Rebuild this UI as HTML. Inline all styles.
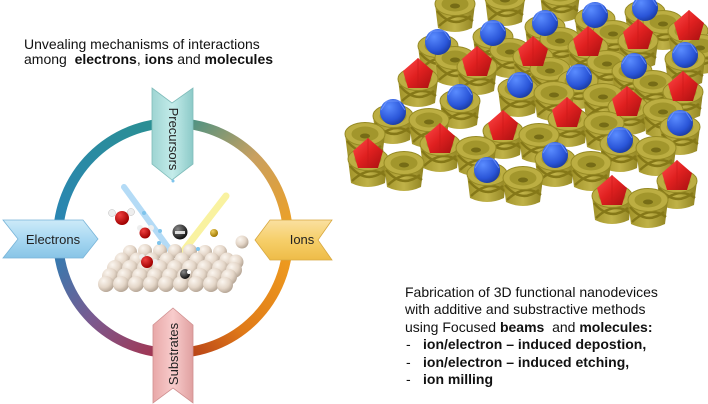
<!DOCTYPE html>
<html><head><meta charset="utf-8"><style>
html,body{margin:0;padding:0;background:#fff;}
body{width:708px;height:404px;overflow:hidden;position:relative;font-family:"Liberation Sans",Arial,sans-serif;}
svg{position:absolute;left:0;top:0;}
</style></head><body>
<svg width="708" height="404" viewBox="0 0 708 404" xmlns="http://www.w3.org/2000/svg" font-family="Liberation Sans, Arial, sans-serif">
<defs>
<linearGradient id="gTL" x1="0" y1="1" x2="1" y2="0"><stop offset="0" stop-color="#2a85b5"/><stop offset="1" stop-color="#2a9090"/></linearGradient>
<linearGradient id="gTR" x1="0" y1="0" x2="1" y2="1"><stop offset="0" stop-color="#3a9088"/><stop offset="0.5" stop-color="#c9a060"/><stop offset="1" stop-color="#f0a020"/></linearGradient>
<linearGradient id="gBR" x1="1" y1="0" x2="0" y2="1"><stop offset="0" stop-color="#f0a020"/><stop offset="0.6" stop-color="#e07a18"/><stop offset="1" stop-color="#b03818"/></linearGradient>
<linearGradient id="gBL" x1="0" y1="0" x2="1" y2="1"><stop offset="0" stop-color="#2a80b5"/><stop offset="0.5" stop-color="#7a5a90"/><stop offset="1" stop-color="#a83048"/></linearGradient>
<linearGradient id="gPre" x1="0" y1="0" x2="1" y2="0"><stop offset="0" stop-color="#9ed4d2"/><stop offset="0.5" stop-color="#c4ecea"/><stop offset="1" stop-color="#8ccac8"/></linearGradient>
<linearGradient id="gSub" x1="0" y1="0" x2="1" y2="0"><stop offset="0" stop-color="#e8a8a8"/><stop offset="0.5" stop-color="#f8cccc"/><stop offset="1" stop-color="#e0a0a0"/></linearGradient>
<linearGradient id="gEl" x1="0" y1="0" x2="0" y2="1"><stop offset="0" stop-color="#cdeaf8"/><stop offset="0.5" stop-color="#a8d8f2"/><stop offset="1" stop-color="#88c4e6"/></linearGradient>
<linearGradient id="gIon" x1="0" y1="0" x2="0" y2="1"><stop offset="0" stop-color="#fae0a0"/><stop offset="0.5" stop-color="#f6cf6a"/><stop offset="1" stop-color="#eebc48"/></linearGradient>
<radialGradient id="sB" cx="0.35" cy="0.3" r="0.7"><stop offset="0" stop-color="#fbf6f0"/><stop offset="0.6" stop-color="#e4d6c8"/><stop offset="1" stop-color="#b8a898"/></radialGradient>
<radialGradient id="sR" cx="0.35" cy="0.3" r="0.7"><stop offset="0" stop-color="#f04040"/><stop offset="1" stop-color="#a00000"/></radialGradient>
<radialGradient id="sK" cx="0.35" cy="0.3" r="0.7"><stop offset="0" stop-color="#888"/><stop offset="1" stop-color="#111"/></radialGradient>
<radialGradient id="sG" cx="0.35" cy="0.3" r="0.7"><stop offset="0" stop-color="#f0d060"/><stop offset="1" stop-color="#a07800"/></radialGradient>
<radialGradient id="sBl" cx="0.35" cy="0.3" r="0.75"><stop offset="0" stop-color="#5a8cff"/><stop offset="0.7" stop-color="#2a55d8"/><stop offset="1" stop-color="#1a3aa0"/></radialGradient>
<linearGradient id="sRd" x1="0" y1="0" x2="1" y2="1"><stop offset="0" stop-color="#ff4a4a"/><stop offset="0.5" stop-color="#e02020"/><stop offset="1" stop-color="#a81010"/></linearGradient>
<linearGradient id="cupB" x1="0" y1="0" x2="1" y2="0"><stop offset="0" stop-color="#a09228"/><stop offset="0.5" stop-color="#c0b248"/><stop offset="1" stop-color="#8f8220"/></linearGradient>
<g id="cup">
<path d="M-20,0 L-17,24 Q0,32 17,24 L20,0 Z" fill="url(#cupB)"/>
<path d="M-18,7 Q-2,26 16,12 M-16,22 Q2,5 18,17" fill="none" stroke="#857818" stroke-width="2.4"/>
<ellipse cx="0" cy="0" rx="20" ry="11.5" fill="#bcae42" stroke="#968a24" stroke-width="1"/>
<ellipse cx="0" cy="0" rx="13.5" ry="7.5" fill="#a2962c"/>
<ellipse cx="0" cy="2" rx="5" ry="2.5" fill="#766c16"/>
</g>
<g id="bl"><circle r="13" fill="url(#sBl)"/><path d="M-6,-11 L6,-11 L12,-2 M-12,-2 L-6,-11" fill="none" stroke="#7aa0ff" stroke-width="1" opacity="0.7"/></g>
<g id="rd"><path d="M0,-17 L15,-4 L10,13 L-10,13 L-15,-4 Z" fill="url(#sRd)"/><path d="M0,-17 L0,13" stroke="#c81818" stroke-width="1" opacity="0.6"/></g>
</defs>

<!-- lattice cups (sorted by y) -->
<g>
<use href="#cup" x="455" y="4"/><use href="#cup" x="505" y="-2"/><use href="#cup" x="560" y="-6"/>
<use href="#cup" x="645" y="12"/><use href="#cup" x="595" y="19"/><use href="#cup" x="663" y="22"/><use href="#cup" x="545" y="27"/><use href="#cup" x="613" y="32"/><use href="#cup" x="688" y="31"/><use href="#cup" x="493" y="37"/><use href="#cup" x="560" y="39"/><use href="#cup" x="638" y="41"/><use href="#cup" x="438" y="46"/><use href="#cup" x="700" y="46"/><use href="#cup" x="588" y="47"/><use href="#cup" x="510" y="50"/><use href="#cup" x="455" y="58"/><use href="#cup" x="533" y="57"/><use href="#cup" x="685" y="59"/><use href="#cup" x="607" y="62"/><use href="#cup" x="477" y="67"/><use href="#cup" x="550" y="69"/><use href="#cup" x="632" y="71"/><use href="#cup" x="418" y="79"/><use href="#cup" x="578" y="81"/><use href="#cup" x="653" y="82"/><use href="#cup" x="518" y="89"/><use href="#cup" x="683" y="92"/><use href="#cup" x="554" y="93"/><use href="#cup" x="603" y="95"/><use href="#cup" x="460" y="101"/><use href="#cup" x="628" y="107"/><use href="#cup" x="663" y="110"/><use href="#cup" x="393" y="116"/><use href="#cup" x="568" y="119"/><use href="#cup" x="429" y="120"/><use href="#cup" x="604" y="123"/><use href="#cup" x="680" y="127"/><use href="#cup" x="503" y="131"/><use href="#cup" x="365" y="134"/><use href="#cup" x="539" y="135"/><use href="#cup" x="440" y="144"/><use href="#cup" x="620" y="144"/><use href="#cup" x="476" y="148"/><use href="#cup" x="656" y="148"/><use href="#cup" x="368" y="159"/><use href="#cup" x="555" y="159"/><use href="#cup" x="404" y="163"/><use href="#cup" x="591" y="163"/><use href="#cup" x="487" y="174"/><use href="#cup" x="523" y="178"/><use href="#cup" x="677" y="181"/><use href="#cup" x="612" y="196"/><use href="#cup" x="648" y="200"/>
</g>
<g>
<use href="#bl" x="438" y="42"/><use href="#bl" x="493" y="33"/><use href="#bl" x="545" y="23"/><use href="#bl" x="595" y="15"/><use href="#bl" x="645" y="8"/><use href="#bl" x="520" y="85"/><use href="#bl" x="579" y="77"/><use href="#bl" x="634" y="66"/><use href="#bl" x="685" y="55"/><use href="#bl" x="460" y="97"/><use href="#bl" x="393" y="112"/><use href="#bl" x="680" y="123"/><use href="#bl" x="620" y="140"/><use href="#bl" x="555" y="155"/><use href="#bl" x="487" y="170"/>
<use href="#rd" x="418" y="75"/><use href="#rd" x="477" y="63"/><use href="#rd" x="533" y="53"/><use href="#rd" x="588" y="43"/><use href="#rd" x="638" y="36"/><use href="#rd" x="689" y="27"/><use href="#rd" x="683" y="88"/><use href="#rd" x="627" y="103"/><use href="#rd" x="567" y="114"/><use href="#rd" x="503" y="127"/><use href="#rd" x="440" y="140"/><use href="#rd" x="368" y="155"/><use href="#rd" x="612" y="192"/><use href="#rd" x="677" y="177"/>
</g>

<!-- ring -->
<g fill="none" stroke-width="10">
<path d="M58,238 A115,115 0 0 1 173,123" stroke="url(#gTL)"/>
<path d="M173,123 A115,115 0 0 1 288,238" stroke="url(#gTR)"/>
<path d="M288,238 A115,115 0 0 1 173,353" stroke="url(#gBR)"/>
<path d="M173,353 A115,115 0 0 1 58,238" stroke="url(#gBL)"/>
</g>

<!-- banners -->
<path d="M152,88 L172,103 L193,88 L193,164 L172,180 L152,164 Z" fill="url(#gPre)" stroke="#7fbcba" stroke-width="0.8"/>
<text transform="translate(169,139) rotate(90)" text-anchor="middle" font-size="13" fill="#222">Precursors</text>
<path d="M173,308 L193,325 L193,403 L173,388 L153,403 L153,325 Z" fill="url(#gSub)" stroke="#d09090" stroke-width="0.8"/>
<text transform="translate(178,354) rotate(-90)" text-anchor="middle" font-size="13" fill="#222">Substrates</text>
<path d="M3,220 L83,220 L98,239 L83,258 L3,258 L18,239 Z" fill="url(#gEl)" stroke="#78b4d8" stroke-width="0.8"/>
<text x="53" y="244" text-anchor="middle" font-size="13" fill="#222">Electrons</text>
<path d="M255,240 L270,220 L332,220 L318,240 L332,260 L270,260 Z" fill="url(#gIon)" stroke="#d8a840" stroke-width="0.8"/>
<text x="302" y="244" text-anchor="middle" font-size="13" fill="#222">Ions</text>

<!-- beams -->
<line x1="124" y1="187" x2="173" y2="254" stroke="#9cd0f4" stroke-width="6" stroke-linecap="round" opacity="0.75"/>
<line x1="226" y1="196" x2="181" y2="254" stroke="#f8f090" stroke-width="7" stroke-linecap="round" opacity="0.85"/>

<!-- substrate spheres -->
<g fill="url(#sB)">
<circle cx="130" cy="252" r="7"/><circle cx="145" cy="251" r="7"/><circle cx="160" cy="251" r="7"/><circle cx="175" cy="251" r="7"/><circle cx="190" cy="251" r="7"/><circle cx="205" cy="252" r="7"/><circle cx="220" cy="252" r="7"/>
<circle cx="122" cy="260" r="7.5"/><circle cx="137" cy="260" r="7.5"/><circle cx="152" cy="260" r="7.5"/><circle cx="167" cy="260" r="7.5"/><circle cx="182" cy="260" r="7.5"/><circle cx="197" cy="260" r="7.5"/><circle cx="212" cy="260" r="7.5"/><circle cx="227" cy="260" r="7.5"/><circle cx="236" cy="262" r="7.5"/>
<circle cx="115" cy="268" r="8"/><circle cx="130" cy="268" r="8"/><circle cx="145" cy="268" r="8"/><circle cx="160" cy="268" r="8"/><circle cx="175" cy="268" r="8"/><circle cx="190" cy="268" r="8"/><circle cx="205" cy="268" r="8"/><circle cx="220" cy="268" r="8"/><circle cx="234" cy="270" r="8"/>
<circle cx="110" cy="276" r="8"/><circle cx="125" cy="276" r="8"/><circle cx="140" cy="276" r="8"/><circle cx="155" cy="276" r="8"/><circle cx="170" cy="276" r="8"/><circle cx="185" cy="276" r="8"/><circle cx="200" cy="276" r="8"/><circle cx="215" cy="276" r="8"/><circle cx="229" cy="277" r="8"/>
<circle cx="106" cy="284" r="8"/><circle cx="121" cy="284" r="8"/><circle cx="136" cy="284" r="8"/><circle cx="151" cy="284" r="8"/><circle cx="166" cy="284" r="8"/><circle cx="181" cy="284" r="8"/><circle cx="196" cy="284" r="8"/><circle cx="211" cy="284" r="8"/><circle cx="225" cy="285" r="8"/>
</g>
<!-- molecules -->
<circle cx="112" cy="213" r="3.5" fill="#eee" stroke="#bbb" stroke-width="0.5"/><circle cx="131" cy="212" r="3.5" fill="#eee" stroke="#bbb" stroke-width="0.5"/>
<circle cx="122" cy="218" r="7" fill="url(#sR)"/>
<circle cx="140" cy="228" r="3" fill="#eee"/><circle cx="151" cy="228" r="3" fill="#eee"/>
<circle cx="145" cy="233" r="5.5" fill="url(#sR)"/>
<circle cx="142" cy="257" r="3" fill="#eee"/><circle cx="155" cy="262" r="3" fill="#eee"/>
<circle cx="147" cy="262" r="6" fill="url(#sR)"/>
<circle cx="180" cy="232" r="7.5" fill="url(#sK)"/><rect x="175" y="231" width="10" height="3" fill="#fff" opacity="0.8"/>
<circle cx="185" cy="274" r="5" fill="url(#sK)"/><circle cx="189" cy="272" r="2" fill="#fff"/>
<circle cx="214" cy="233" r="4" fill="url(#sG)"/>
<circle cx="242" cy="242" r="6.5" fill="url(#sB)"/>
<g fill="#7ec4ec"><circle cx="144" cy="213" r="2"/><circle cx="160" cy="231" r="2"/><circle cx="159" cy="243" r="2"/><circle cx="198" cy="249" r="2"/><circle cx="173" cy="181" r="1.5"/></g>

<!-- text -->
<text x="24" y="49" font-size="14" fill="#111">Unvealing mechanisms of interactions</text>
<text x="24" y="64" font-size="14" fill="#111" xml:space="preserve">among  <tspan font-weight="bold">electrons</tspan>, <tspan font-weight="bold">ions</tspan> and <tspan font-weight="bold">molecules</tspan></text>

<g font-size="14" fill="#111">
<text x="405" y="297">Fabrication of 3D functional nanodevices</text>
<text x="405" y="314">with additive and substractive methods</text>
<text x="405" y="332" xml:space="preserve">using Focused <tspan font-weight="bold">beams</tspan>  and <tspan font-weight="bold">molecules:</tspan></text>
<text x="406" y="349">-</text><text x="423" y="349" font-weight="bold">ion/electron – induced depostion,</text>
<text x="406" y="367">-</text><text x="423" y="367" font-weight="bold">ion/electron – induced etching,</text>
<text x="406" y="384">-</text><text x="423" y="384" font-weight="bold">ion milling</text>
</g>
</svg>
</body></html>
